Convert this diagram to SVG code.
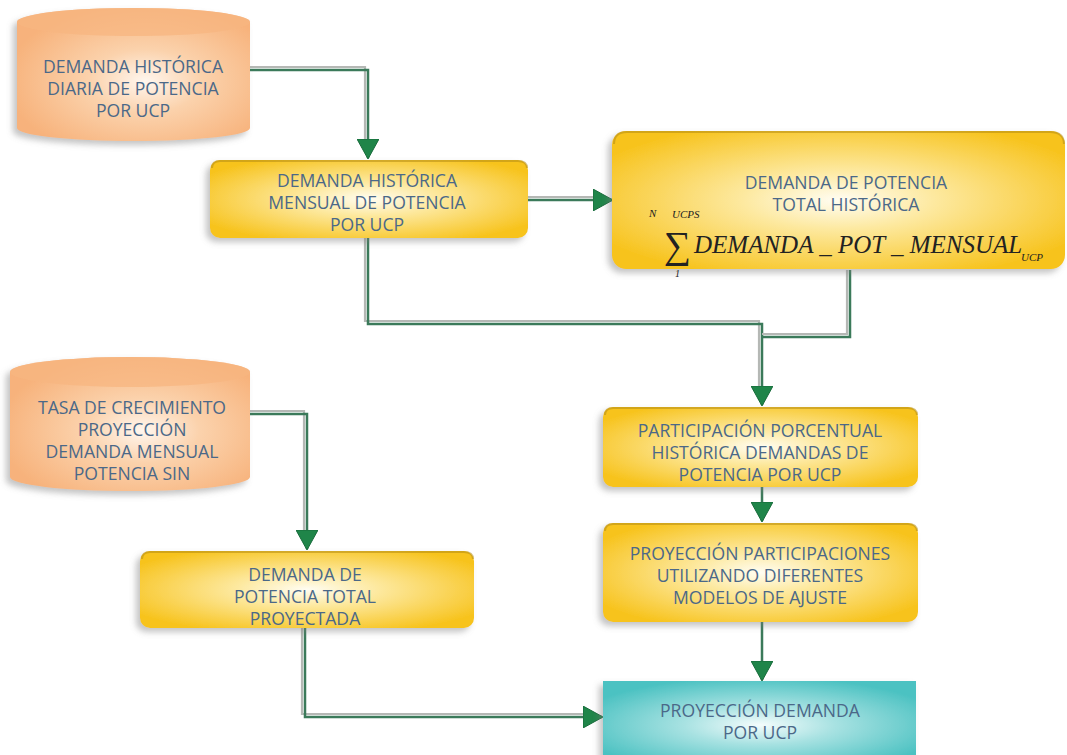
<svg xmlns="http://www.w3.org/2000/svg" width="1067" height="755" viewBox="0 0 1067 755">
<defs>
<radialGradient id="gY" cx="0.5" cy="0.5" r="0.6">
<stop offset="0" stop-color="#fffdf2"/>
<stop offset="0.35" stop-color="#fde9a0"/>
<stop offset="1" stop-color="#f7c31c"/>
</radialGradient>
<radialGradient id="gO" cx="0.55" cy="0.55" r="0.6">
<stop offset="0" stop-color="#fff6ee"/>
<stop offset="0.4" stop-color="#fbd2ac"/>
<stop offset="1" stop-color="#f7b27b"/>
</radialGradient>
<radialGradient id="gT" cx="0.5" cy="0.55" r="0.6">
<stop offset="0" stop-color="#f4fcfc"/>
<stop offset="0.4" stop-color="#a8e2e2"/>
<stop offset="1" stop-color="#4cc2c2"/>
</radialGradient>
<filter id="sh" x="-10%" y="-10%" width="120%" height="130%">
<feDropShadow dx="-4" dy="4" stdDeviation="3" flood-color="#7a7a7a" flood-opacity="0.45"/>
</filter>
<marker id="arw" markerWidth="20" markerHeight="22" refX="19" refY="11" orient="auto" markerUnits="userSpaceOnUse" viewBox="0 0 20 22">
<path d="M0,0 L20,11 L0,22 z" fill="#1f8549" stroke="#176b3a" stroke-width="1"/>
</marker>
</defs>
<style>
.t{font-family:"Open Sans","Noto Sans","Liberation Sans",sans-serif;font-size:17.6px;fill:#4b6888;text-anchor:middle}
.f{font-family:"Liberation Serif","DejaVu Serif",serif;font-style:italic;fill:#222}
.g{fill:none;stroke:#b5b8b5;stroke-width:2.2}
.c{fill:none;stroke:#3b7a5a;stroke-width:2.5}
.y{fill:url(#gY);filter:url(#sh)}
.o{fill:url(#gO);filter:url(#sh)}
.top{fill:none;stroke:#b48c16;stroke-width:2;opacity:0.55}
</style>
<rect width="1067" height="755" fill="#ffffff"/>

<g id="connectors">
<path class="g" d="M250,67 H365 V150"/>
<path class="c" d="M250,70 H368 V158" marker-end="url(#arw)"/>
<path class="g" d="M528,197 H600"/>
<path class="c" d="M528,200 H612" marker-end="url(#arw)"/>
<path class="g" d="M365,238 V321 H759 V400"/>
<path class="c" d="M368,238 V324 H762 V405" marker-end="url(#arw)"/>
<path class="g" d="M847,270 V334 H762"/>
<path class="c" d="M850,270 V337 H762"/>
<path class="g" d="M250,411 H304 V540"/>
<path class="c" d="M250,414 H307 V549" marker-end="url(#arw)"/>
<path class="c" d="M762,487 V521" marker-end="url(#arw)"/>
<path class="c" d="M762,622 V680" marker-end="url(#arw)"/>
<path class="g" d="M302,628 V714 H590"/>
<path class="c" d="M305,628 V717 H602" marker-end="url(#arw)"/>
</g>

<g id="n1">
<path class="o" d="M17,22 A116.5,14 0 0 1 250,22 V128 A116.5,13 0 0 1 17,128 Z"/>
<ellipse cx="133.5" cy="22" rx="116.5" ry="14" fill="#f7b680" opacity="0.75"/>
<text class="t" x="133" y="73">DEMANDA HISTÓRICA</text>
<text class="t" x="133" y="95">DIARIA DE POTENCIA</text>
<text class="t" x="133" y="117">POR UCP</text>
</g>

<g id="n2">
<rect class="y" x="210" y="160" width="318" height="78" rx="10"/>
<path class="top" d="M212,168 Q212,161 220,161 H518 Q527,161 527,168"/>
<text class="t" x="367" y="187">DEMANDA HISTÓRICA</text>
<text class="t" x="367" y="209">MENSUAL DE POTENCIA</text>
<text class="t" x="367" y="231">POR UCP</text>
</g>

<g id="n3">
<rect class="y" x="612" y="131" width="453" height="138" rx="14"/>
<path class="top" d="M614,144 Q614,132 627,132 H1050 Q1064,132 1064,144"/>
<text class="t" x="846" y="189">DEMANDA DE POTENCIA</text>
<text class="t" x="846" y="211">TOTAL HISTÓRICA</text>
<text class="f" x="649" y="217" font-size="11">N</text>
<text class="f" x="672" y="218" font-size="11">UCPS</text>
<text class="f" x="664" y="258" font-size="38" font-style="normal">∑</text>
<text class="f" x="675" y="277" font-size="10" font-style="normal">1</text>
<text class="f" x="694" y="253" font-size="25">DEMANDA _ POT _ MENSUAL</text>
<text class="f" x="1021" y="261" font-size="11">UCP</text>
</g>

<g id="n4">
<path class="o" d="M10,372 A120,15 0 0 1 250,372 V477 A120,14 0 0 1 10,477 Z"/>
<ellipse cx="130" cy="372" rx="120" ry="15" fill="#f7b680" opacity="0.75"/>
<text class="t" x="132" y="414">TASA DE CRECIMIENTO</text>
<text class="t" x="132" y="436">PROYECCIÓN</text>
<text class="t" x="132" y="458">DEMANDA MENSUAL</text>
<text class="t" x="132" y="480">POTENCIA SIN</text>
</g>

<g id="n5">
<rect class="y" x="140" y="551" width="334" height="77" rx="10"/>
<path class="top" d="M142,559 Q142,552 150,552 H464 Q473,552 473,559"/>
<text class="t" x="305" y="581">DEMANDA DE</text>
<text class="t" x="305" y="603">POTENCIA TOTAL</text>
<text class="t" x="305" y="625">PROYECTADA</text>
</g>

<g id="n6">
<rect class="y" x="603" y="407" width="315" height="80" rx="10"/>
<path class="top" d="M605,415 Q605,408 613,408 H908 Q917,408 917,415"/>
<text class="t" x="760" y="437">PARTICIPACIÓN PORCENTUAL</text>
<text class="t" x="760" y="459">HISTÓRICA DEMANDAS DE</text>
<text class="t" x="760" y="481">POTENCIA POR UCP</text>
</g>

<g id="n7">
<rect class="y" x="603" y="523" width="315" height="99" rx="10"/>
<path class="top" d="M605,531 Q605,524 613,524 H908 Q917,524 917,531"/>
<text class="t" x="760" y="560">PROYECCIÓN PARTICIPACIONES</text>
<text class="t" x="760" y="582">UTILIZANDO DIFERENTES</text>
<text class="t" x="760" y="604">MODELOS DE AJUSTE</text>
</g>

<g id="n8">
<rect x="603" y="681" width="313" height="80" fill="url(#gT)" filter="url(#sh)"/>
<text class="t" x="760" y="717">PROYECCIÓN DEMANDA</text>
<text class="t" x="760" y="739">POR UCP</text>
</g>
</svg>
